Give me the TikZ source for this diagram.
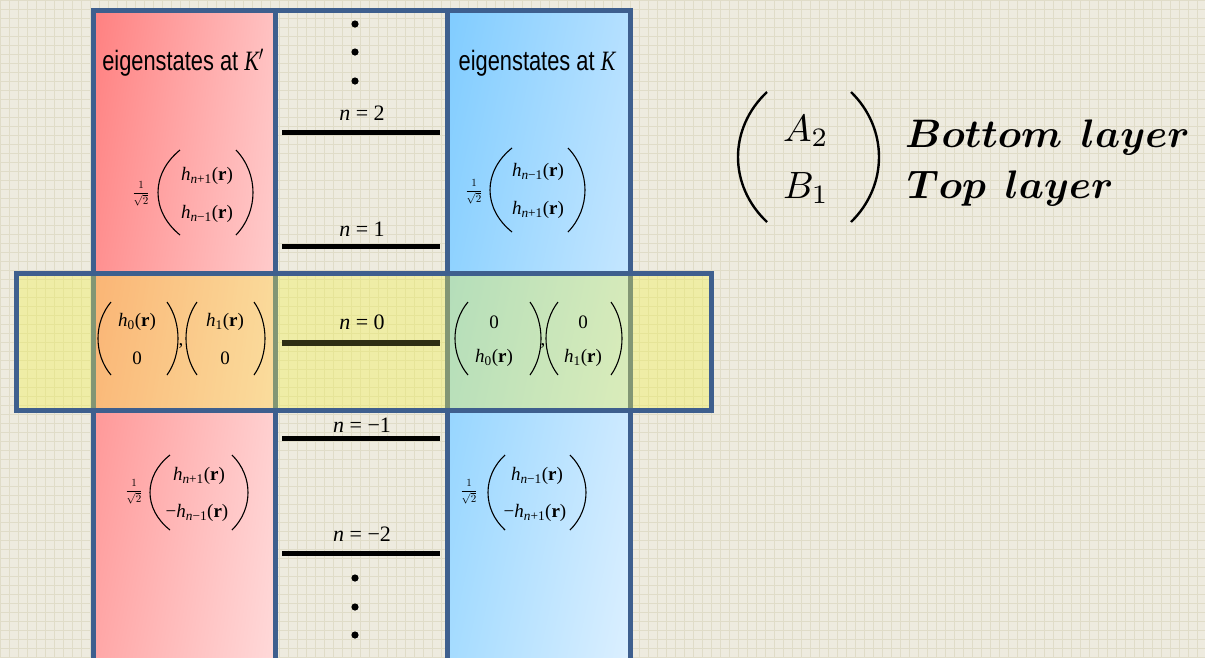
\documentclass[tikz,border=0pt]{standalone}
\usepackage{amsmath,bm}
\usepackage{fontspec}
\setmainfont{Liberation Serif}
\newfontfamily\sansA{Liberation Sans}
\usepackage{graphicx}
\usetikzlibrary{shadings}
\definecolor{bgc}{HTML}{EEEBDF}
\definecolor{gridc}{HTML}{E0DCC8}
\definecolor{bordc}{HTML}{3E5F8E}
\definecolor{redA}{HTML}{FF8080}
\definecolor{redB}{HTML}{FFC2C2}
\definecolor{redC}{HTML}{FFA8A8}
\definecolor{redD}{HTML}{FFDADA}
\definecolor{bluA}{HTML}{80CCFF}
\definecolor{bluB}{HTML}{B5E0FF}
\definecolor{bluC}{HTML}{A6DCFF}
\definecolor{bluD}{HTML}{DDF0FF}
\definecolor{yelc}{HTML}{F2F24A}
\definecolor{zeroc}{HTML}{2F2F14}
\newcommand{\vparen}[5][1.1pt]{\draw[line width=#1] (#2,#4) .. controls ({#2+1.333*(#3-#2)},{#4+0.28*(#5-#4)}) and ({#2+1.333*(#3-#2)},{#5-0.28*(#5-#4)}) .. (#2,#5);}
\newcommand{\hs}[1]{\textit{h}\textsubscript{#1}(\textbf{r})}
\newcommand{\frt}{{\fontsize{11}{11}\selectfont$\dfrac{1}{\sqrt{2}}$}}
\begin{document}
\begin{tikzpicture}[x=1pt,y=-1pt,
  frame/.style={draw=bordc,line width=5pt},
  levelline/.style={line width=5pt,black},
  lab/.style={font=\fontsize{22}{22}\selectfont,inner sep=0pt},
  ent/.style={font=\fontsize{19}{19}\selectfont,inner sep=0pt},
  eig/.style={font=\sansA\fontsize{28}{28}\selectfont,inner sep=0pt,anchor=base},
  frac/.style={inner sep=0pt},
  big/.style={inner sep=0pt},
  legend/.style={inner sep=0pt,anchor=base west}]
\useasboundingbox (0,0) rectangle (1205,657);
\fill[bgc] (0,0) rectangle (1205,657);
\foreach \i in {0,9,...,1205} \draw[gridc,line width=0.6pt] (\i,0) -- (\i,657);
\foreach \j in {0,9,...,657} \draw[gridc,line width=0.6pt] (0,\j) -- (1205,\j);
% columns
\shade[upper left=redA,upper right=redB,lower left=redC,lower right=redD] (93,10) rectangle (275,680);
\shade[upper left=bluA,upper right=bluB,lower left=bluC,lower right=bluD] (447,10) rectangle (630,680);
\draw[frame] (93,10) rectangle (275,680);
\draw[frame] (275,10) rectangle (447,680);
\draw[frame] (447,10) rectangle (630,680);
% band
\fill[yelc,fill opacity=0.38] (16,273) rectangle (711,410);
\draw[frame] (16,273) rectangle (711,410);
% headers
\node[eig] (hKp) at (183,70) {\scalebox{0.78}[1]{eigenstates at \rmfamily\itshape K$'$}};
\node[eig] (hK) at (537,70) {\scalebox{0.78}[1]{eigenstates at \rmfamily\itshape K}};
% levels
\draw[levelline] (282,132) -- (440,132);
\draw[levelline] (282,246) -- (440,246);
\draw[line width=6pt,zeroc] (282,343) -- (440,343);
\draw[levelline] (282,438) -- (440,438);
\draw[levelline] (282,553) -- (440,553);
\node[lab] (l2) at (362,113) {\textit{n} = 2};
\node[lab] (l1) at (362,229) {\textit{n} = 1};
\node[lab] (l0) at (362,322) {\textit{n} = 0};
\node[lab] (lm1) at (362,425) {\textit{n} = −1};
\node[lab] (lm2) at (362,534) {\textit{n} = −2};
% dots
\foreach \yy in {24,52,81,578,607,635} \fill (355,\yy) circle[radius=3.6pt];
% top red matrix
\node[frac] (f1) at (141,194) {\frt};
\vparen{180}{158}{150}{235}\vparen{236}{253}{150}{235}
\node[ent] (a1) at (207,176) {\hs{\textit{n}+1}};
\node[ent] (a2) at (207,214) {\hs{\textit{n}−1}};
% top blue matrix
\node[frac] (f2) at (474,192) {\frt};
\vparen{512}{490}{148}{232}\vparen{568}{585}{148}{232}
\node[ent] (b1) at (538,172) {\hs{\textit{n}−1}};
\node[ent] (b2) at (538,210) {\hs{\textit{n}+1}};
% band red
\vparen{111}{98}{302}{375}\vparen{167}{178}{302}{375}
\node[ent] (c1) at (137,322) {\hs{0}};
\node[ent] (c2) at (137,358) {0};
\node[ent] (cc) at (181,346) {,};
\vparen{197}{186}{302}{375}\vparen{254}{265}{302}{375}
\node[ent] (c3) at (225,322) {\hs{1}};
\node[ent] (c4) at (225,358) {0};
% band blue
\vparen{468}{455}{302}{375}\vparen{530}{541}{302}{375}
\node[ent] (d1) at (494,322) {0};
\node[ent] (d2) at (494,358) {\hs{0}};
\node[ent] (dc) at (543,346) {,};
\vparen{558}{546}{302}{375}\vparen{611}{622}{302}{375}
\node[ent] (d3) at (583,322) {0};
\node[ent] (d4) at (583,358) {\hs{1}};
% bottom red
\node[frac] (f3) at (134,492) {\frt};
\vparen{170}{150}{455}{530}\vparen{232}{248}{455}{530}
\node[ent] (e1) at (199,476) {\hs{\textit{n}+1}};
\node[ent] (e2) at (197,513) {−\hs{\textit{n}−1}};
% bottom blue
\node[frac] (f4) at (469,492) {\frt};
\vparen{505}{488}{455}{530}\vparen{570}{586}{455}{530}
\node[ent] (g1) at (537,476) {\hs{\textit{n}−1}};
\node[ent] (g2) at (535,513) {−\hs{\textit{n}+1}};
% right legend
\vparen[2.4pt]{767}{738}{92}{222}\vparen[2.4pt]{851}{879}{92}{222}
\node[big] (A2) at (806,131) {\scalebox{3.8}{$A_2$}};
\node[big] (B1) at (806,188) {\scalebox{3.8}{$B_1$}};
\node[legend] (bot) at (905,147) {\scalebox{3.98}{$\bm{Bottom\:\ layer}$}};
\node[legend] (top) at (907,198) {\scalebox{3.98}{$\bm{Top\:\ layer}$}};
\end{tikzpicture}
\end{document}
